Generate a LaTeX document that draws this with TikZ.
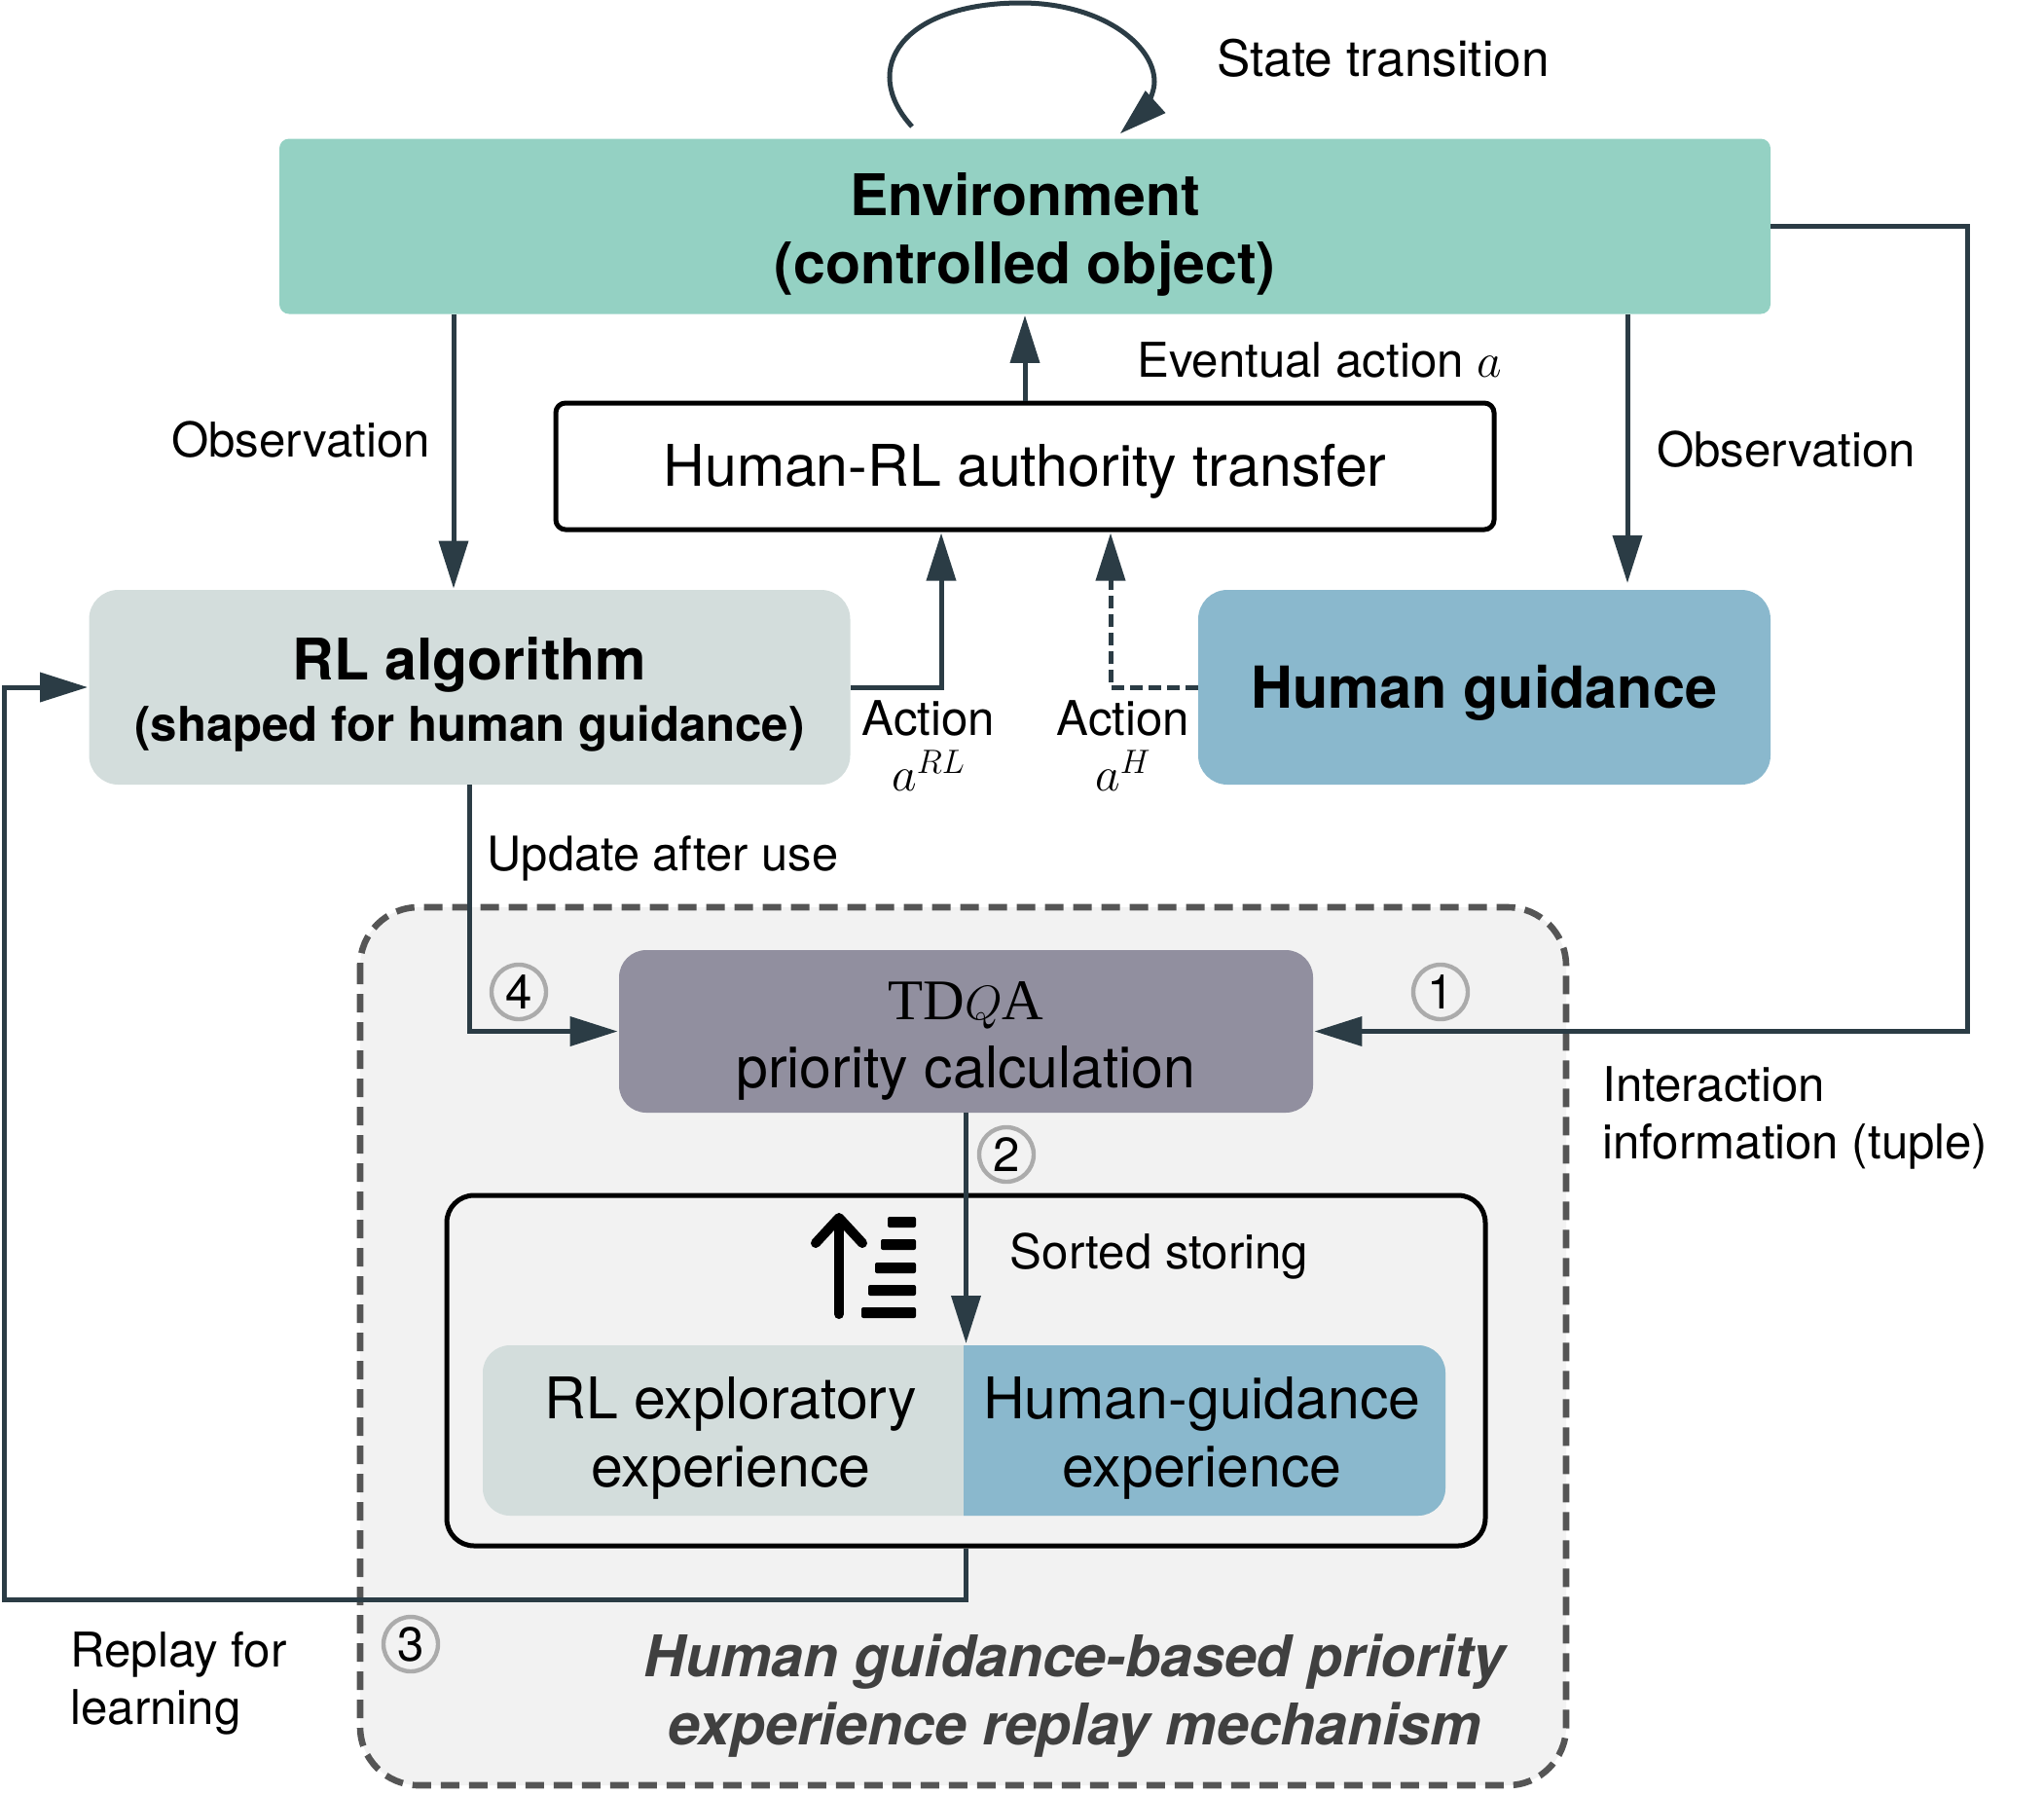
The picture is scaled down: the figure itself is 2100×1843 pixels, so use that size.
\documentclass[tikz,border=0pt]{standalone}
\usepackage{fontspec}
\setsansfont{TeX Gyre Heros}
\newfontfamily\timesf{Liberation Serif}
\usetikzlibrary{arrows.meta}
\definecolor{envc}{HTML}{94D1C3}
\definecolor{rlc}{HTML}{D3DDDC}
\definecolor{humc}{HTML}{8AB8CD}
\definecolor{prioc}{HTML}{918F9F}
\definecolor{outerc}{HTML}{F2F2F2}
\definecolor{dashc}{HTML}{555555}
\definecolor{arrc}{HTML}{2B3C45}
\definecolor{ringc}{HTML}{ABABAB}
\newcommand{\bigf}{\fontsize{29.5}{35}\selectfont}
\newcommand{\medf}{\fontsize{24.6}{29.5}\selectfont}
\newcommand{\upstrut}[1]{\rule{0pt}{#1pt}}
\tikzset{
  every node/.style={font=\sffamily\medf,inner sep=0pt,align=center},
  lbll/.style={anchor=west,align=left},
  conn/.style={draw=arrc,line width=2.5pt,-{Triangle[length=24.5pt,width=14.8pt]},shorten >=0.5pt},
  ring/.style={circle,draw=ringc,line width=2.2pt,minimum size=28pt},
  bar/.style={fill=black,rounded corners=1pt},
}
\begin{document}
\begin{tikzpicture}[x=0.5pt,y=-0.5pt]
\useasboundingbox (0,0) rectangle (2100,1843);

% outer dashed region
\draw[draw=dashc,fill=outerc,line width=3.3pt,dash pattern=on 9.5pt off 5pt,rounded corners=30pt] (370,932) rectangle (1609,1834);

% main boxes
\node[fill=envc,rounded corners=5pt,minimum width=766pt,minimum height=90pt,font=\sffamily\bigf\bfseries] (env) at (1053,232.5) {\upstrut{30}Environment\\(controlled object)};
\node[draw=black,fill=white,line width=2.5pt,rounded corners=5pt,minimum width=482pt,minimum height=65pt,font=\sffamily\bigf] (auth) at (1053,479) {\upstrut{27}Human-RL authority transfer};
\node[fill=rlc,rounded corners=15pt,minimum width=391pt,minimum height=100pt,font=\sffamily\bigf\bfseries] (rl) at (482.5,706) {\upstrut{29.5}RL algorithm\\[-3.7pt]{\medf\bfseries (shaped for human guidance)}};
\node[fill=humc,rounded corners=15pt,minimum width=294pt,minimum height=100pt,font=\sffamily\fontsize{29.7}{35}\selectfont\bfseries] (hum) at (1525,706) {\upstrut{28}Human guidance};
\node[fill=prioc,rounded corners=14pt,minimum width=356.5pt,minimum height=83.5pt,font=\sffamily\bigf] (prio) at (992.5,1059.5) {\upstrut{29}{\timesf TD}$Q${\timesf A}\\priority calculation};

% store box and its two-part experience bar
\node[draw=black,line width=2.5pt,rounded corners=14pt,minimum width=533.5pt,minimum height=180pt] (store) at (992.5,1408) {};
\fill[rlc,rounded corners=14pt] (496,1382) rectangle (1485,1557);
\begin{scope}
  \clip (990,1370) rectangle (1500,1570);
  \fill[humc,rounded corners=14pt] (496,1382) rectangle (1485,1557);
\end{scope}
\node[font=\sffamily\bigf] (rlexp) at (751,1477) {RL exploratory\\experience};
\node[font=\sffamily\bigf] (hgexp) at (1235,1477) {Human-guidance\\experience};

% sort icon
\draw[black,line width=5pt,line cap=round] (862,1350) -- (862,1253);
\draw[black,line width=5pt,line cap=round,line join=round] (838,1277) -- (862,1251) -- (886,1277);
\fill[bar] (912,1250) rectangle (941,1261);
\fill[bar] (905,1273) rectangle (941,1284);
\fill[bar] (899,1297) rectangle (941,1308);
\fill[bar] (892,1320) rectangle (941,1331);
\fill[bar] (885,1343) rectangle (941,1354);

% coordinates
\coordinate (loopa) at (937,130);
\coordinate (loopb) at (1150,138);
\coordinate (rightbend) at (2021,233);
\coordinate (leftbend) at (4,1643);
\coordinate (storetop) at (993,1381);
\coordinate (rlup) at (967,706);
\coordinate (hup) at (1141,706);
\coordinate (humtip) at (1672,600);

% connectors
\draw[conn] (loopa) .. controls (882,70) and (928,3) .. (1049,3) .. controls (1130,3) and (1186,45) .. (1186,84) .. controls (1186,100) and (1170,120) .. (loopb);
\draw[conn] (466,0 |- env.south) -- (466,0 |- rl.north);
\draw[conn] (humtip |- env.south) -- (humtip);
\draw[conn] (auth.north) -- (env.south);
\draw[conn] (rl.east) -| (rlup |- auth.south);
\draw[conn,dash pattern=on 6.5pt off 3pt] (hum.west) -| (hup |- auth.south);
\draw[conn] (rl.south) |- (prio.west);
\draw[conn] (env.east) -| (rightbend |- prio.east) -- (prio.east);
\draw[conn] (prio.south) -- (prio.south |- storetop);
\draw[conn] (store.south) |- (leftbend) |- (rl.west);

% labels
\node[font=\sffamily\fontsize{25.7}{30}\selectfont] (tstate) at (1421,60) {State transition};
\node[lbll] (teventual) at (1168,370) {Eventual action $a$};
\node (tobsl) at (309,452) {Observation};
\node (tobsr) at (1835,462) {Observation};
\node (tactrl) at (954,766) {Action\\[-1.3pt]$a^{RL}$};
\node (tacth) at (1154,766) {Action\\[-1.3pt]$a^{H}$};
\node[lbll,font=\sffamily\fontsize{24.4}{29.5}\selectfont] (tupdate) at (500,882) {Update after use};
\node[lbll] (tinter) at (1646,1148) {Interaction\\information (tuple)};
\node (tsorted) at (1191,1290) {Sorted storing};
\node[lbll] (treplay) at (72,1729) {Replay for\\learning};
\node[font=\sffamily\bigf\bfseries\itshape,text=black!75] (tmech) at (1104,1742) {Human guidance-based priority\\experience replay mechanism};

% numbered rings
\node[ring] (n1) at (1480,1019) {1};
\node[ring] (n2) at (1034,1186) {2};
\node[ring] (n3) at (422,1689) {3};
\node[ring] (n4) at (533,1019) {4};
\end{tikzpicture}
\end{document}
